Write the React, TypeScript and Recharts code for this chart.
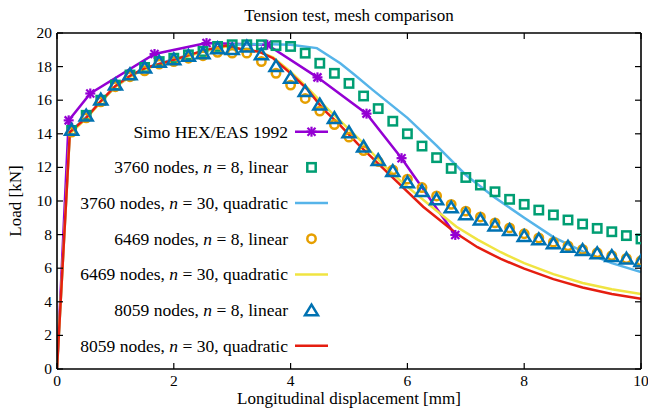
import { ComposedChart, Line, XAxis, YAxis } from 'recharts';

const FONT = '"Liberation Serif", "DejaVu Serif", serif';

const xTicks = [0, 2, 4, 6, 8, 10];
const yTicks = [0, 2, 4, 6, 8, 10, 12, 14, 16, 18, 20];

// Simo HEX/EAS 1992
const simoX = [0, 0.2, 0.57, 1.67, 2.56, 3.6, 4.46, 5.3, 5.9, 6.82];
const simoY = [0, 14.8, 16.4, 18.75, 19.4, 19.3, 17.36, 15.2, 12.55, 7.98];

// x positions of the linear-element markers
const linX = [
  0.25, 0.5, 0.75, 1, 1.25, 1.5, 1.75, 2, 2.25, 2.5,
  2.75, 3, 3.25, 3.5, 3.75, 4, 4.25, 4.5, 4.75, 5,
  5.25, 5.5, 5.75, 6, 6.25, 6.5, 6.75, 7, 7.25, 7.5,
  7.75, 8, 8.25, 8.5, 8.75, 9, 9.25, 9.5, 9.75, 10,
];
const lin3760 = [
  14.2, 15.1, 16.0, 16.9, 17.5, 17.95, 18.3, 18.5, 18.7, 18.9,
  19.2, 19.3, 19.3, 19.3, 19.25, 19.2, 18.8, 18.2, 17.6, 17.0,
  16.25, 15.5, 14.75, 14.0, 13.27, 12.58, 11.94, 11.4, 10.95, 10.55,
  10.1, 9.8, 9.46, 9.17, 8.87, 8.63, 8.37, 8.17, 7.94, 7.74,
];
const lin6469 = [
  14.1, 14.95, 15.9, 16.8, 17.4, 17.75, 18.15, 18.3, 18.5, 18.65,
  18.85, 18.8, 18.8, 18.3, 17.6, 16.9, 16.1, 15.35, 14.55, 13.8,
  13.0, 12.35, 11.85, 11.3, 10.8, 10.3, 9.8, 9.4, 9.05, 8.7,
  8.4, 8.05, 7.8, 7.55, 7.33, 7.12, 6.92, 6.75, 6.58, 6.44,
];
const lin8059 = [
  14.2, 15.05, 16.0, 16.9, 17.5, 17.9, 18.25, 18.4, 18.6, 18.75,
  19.05, 19.0, 19.15, 18.7, 18.0, 17.3, 16.5, 15.7, 14.9, 14.05,
  13.2, 12.4, 11.75, 11.07, 10.55, 10.06, 9.58, 9.17, 8.85, 8.5,
  8.23, 7.88, 7.68, 7.44, 7.24, 7.04, 6.85, 6.69, 6.53, 6.39,
];

// quadratic curves
const quad3760X = [0, 0.22, 0.5, 0.75, 1, 1.25, 1.5, 2, 2.5, 3, 3.5, 4, 4.45, 4.85, 5.1, 5.41, 6, 6.5, 7, 7.5, 8, 8.5, 9, 9.5, 10];
const quad3760Y = [0, 14.1, 15.0, 15.9, 16.8, 17.4, 17.9, 18.45, 18.9, 19.3, 19.35, 19.3, 19.1, 18.2, 17.5, 16.6, 14.95, 13.3, 11.55, 10.2, 9.0, 7.85, 7.0, 6.3, 5.77];
const quad6469X = [0, 0.22, 0.5, 0.75, 1, 1.25, 1.5, 2, 2.5, 2.9, 3.2, 3.45, 3.7, 4, 4.3, 4.6, 4.9, 5.2, 5.6, 5.93, 6.4, 6.84, 7.2, 7.6, 8, 8.5, 9, 9.5, 10];
const quad6469Y = [0, 14.0, 14.9, 15.9, 16.8, 17.4, 17.85, 18.35, 18.9, 19.2, 19.0, 18.9, 18.55, 17.7, 16.7, 15.6, 14.6, 13.6, 12.1, 11.05, 9.7, 8.47, 7.7, 6.95, 6.3, 5.65, 5.12, 4.75, 4.47];
const quad8059X = [0, 0.22, 0.5, 0.75, 1, 1.25, 1.5, 2, 2.5, 2.9, 3.2, 3.45, 3.7, 4, 4.3, 4.55, 4.85, 5.15, 5.7, 6.27, 6.84, 7.2, 7.6, 8, 8.5, 9, 9.5, 10];
const quad8059Y = [0, 14.1, 14.95, 15.95, 16.85, 17.45, 17.9, 18.4, 18.95, 19.25, 19.0, 18.9, 18.5, 17.6, 16.6, 15.5, 14.5, 13.4, 11.55, 9.66, 8.07, 7.25, 6.55, 5.97, 5.35, 4.85, 4.47, 4.18];

const legendLabels = [
  ['Simo HEX/EAS 1992'],
  ['3760 nodes, ', '8', 'linear'],
  ['3760 nodes, ', '30', 'quadratic'],
  ['6469 nodes, ', '8', 'linear'],
  ['6469 nodes, ', '30', 'quadratic'],
  ['8059 nodes, ', '8', 'linear'],
  ['8059 nodes, ', '30', 'quadratic'],
];

const C = {
  purple: '#9400D3',
  green: '#009E73',
  sky: '#56B4E9',
  orange: '#E69F00',
  yellow: '#F0E442',
  blue: '#0072B2',
  red: '#E51E10',
};

const zip = (xs: number[], ys: number[]) => xs.map((x, i) => ({ x, y: ys[i] }));

const Asterisk = ({ cx, cy }: any) => (
  <g stroke={C.purple} strokeWidth={2.2}>
    <line x1={cx - 5} y1={cy} x2={cx + 5} y2={cy} />
    <line x1={cx} y1={cy - 5} x2={cx} y2={cy + 5} />
    <line x1={cx - 4} y1={cy - 4} x2={cx + 4} y2={cy + 4} />
    <line x1={cx - 4} y1={cy + 4} x2={cx + 4} y2={cy - 4} />
  </g>
);
const Square = ({ cx, cy }: any) => (
  <rect x={cx - 4.2} y={cy - 4.2} width={8.4} height={8.4} fill="none" stroke={C.green} strokeWidth={2.5} />
);
const Circ = ({ cx, cy }: any) => (
  <circle cx={cx} cy={cy} r={4.2} fill="none" stroke={C.orange} strokeWidth={2.5} />
);
const Tri = ({ cx, cy }: any) => (
  <polygon
    points={`${cx},${cy - 6.5} ${cx - 6.5},${cy + 4.3} ${cx + 6.5},${cy + 4.3}`}
    fill="none"
    stroke={C.blue}
    strokeWidth={2.5}
  />
);

const dotOf = (Shape: any) => (p: any) =>
  p.payload.x === 0 ? <g key={p.index} /> : <Shape key={p.index} cx={p.cx} cy={p.cy} />;

const BottomTick = ({ x, y, payload }: any) => (
  <g>
    <line x1={x} y1={y} x2={x} y2={y - 6} stroke="#000" strokeWidth={1.2} />
    <text x={x} y={y + 17} textAnchor="middle" fontSize={15.5} fontFamily={FONT} fill="#000">
      {payload.value}
    </text>
  </g>
);
const TopTick = ({ x, y }: any) => (
  <line x1={x} y1={y} x2={x} y2={y + 6} stroke="#000" strokeWidth={1.2} />
);
const LeftTick = ({ x, y, payload }: any) => (
  <g>
    <line x1={x} y1={y} x2={x + 6} y2={y} stroke="#000" strokeWidth={1.2} />
    <text x={x - 5} y={y + 5} textAnchor="end" fontSize={15.5} fontFamily={FONT} fill="#000">
      {payload.value}
    </text>
  </g>
);
const RightTick = ({ x, y }: any) => (
  <line x1={x} y1={y} x2={x - 6} y2={y} stroke="#000" strokeWidth={1.2} />
);

const axisLine = { stroke: '#000', strokeWidth: 1.6 };

const legendShapes = ['asterisk', 'square', 'sky', 'circle', 'yellow', 'triangle', 'red'];

const LegendSample = ({ kind, y }: { kind: string; y: number }) => {
  const cx = 311.5;
  if (kind === 'asterisk')
    return (
      <g>
        <line x1={295} y1={y} x2={328} y2={y} stroke={C.purple} strokeWidth={2.5} />
        <Asterisk cx={cx} cy={y} />
      </g>
    );
  if (kind === 'square') return <Square cx={cx} cy={y} />;
  if (kind === 'circle') return <Circ cx={cx} cy={y} />;
  if (kind === 'triangle') return <Tri cx={cx} cy={y + 1} />;
  const col = kind === 'sky' ? C.sky : kind === 'yellow' ? C.yellow : C.red;
  return <line x1={295} y1={y} x2={328} y2={y} stroke={col} strokeWidth={2.5} />;
};

export default function App() {
  const rowY = (i: number) => 131.7 + i * 35.67;
  return (
    <div style={{ position: 'absolute', left: 0, top: 0, width: 648, height: 414, background: '#fff', fontFamily: FONT }}>
      <ComposedChart width={648} height={414} margin={{ top: 32, right: 6, bottom: 0, left: 0 }}>
        <XAxis
          dataKey="x"
          type="number"
          domain={[0, 10]}
          ticks={xTicks}
          interval={0}
          height={45}
          tickSize={0}
          tickMargin={0}
          tickLine={false}
          axisLine={axisLine}
          tick={<BottomTick />}
          allowDataOverflow
        />
        <XAxis
          xAxisId="top"
          orientation="top"
          dataKey="x"
          type="number"
          domain={[0, 10]}
          ticks={xTicks}
          interval={0}
          height={1}
          tickSize={0}
          tickMargin={0}
          tickLine={false}
          axisLine={axisLine}
          tick={<TopTick />}
          allowDataOverflow
        />
        <YAxis
          type="number"
          domain={[0, 20]}
          ticks={yTicks}
          interval={0}
          width={57}
          tickSize={0}
          tickMargin={0}
          tickLine={false}
          axisLine={axisLine}
          tick={<LeftTick />}
          allowDataOverflow
        />
        <YAxis
          yAxisId="right"
          orientation="right"
          type="number"
          domain={[0, 20]}
          ticks={yTicks}
          interval={0}
          width={1}
          tickSize={0}
          tickMargin={0}
          tickLine={false}
          axisLine={axisLine}
          tick={<RightTick />}
          allowDataOverflow
        />
        <Line data={zip(simoX, simoY)} dataKey="y" type="linear" stroke={C.purple} strokeWidth={2.5} dot={dotOf(Asterisk)} activeDot={false} isAnimationActive={false} />
        <Line data={zip(linX, lin3760)} dataKey="y" type="linear" stroke="none" dot={dotOf(Square)} activeDot={false} isAnimationActive={false} />
        <Line data={zip(quad3760X, quad3760Y)} dataKey="y" type="linear" stroke={C.sky} strokeWidth={2.5} dot={false} activeDot={false} isAnimationActive={false} />
        <Line data={zip(linX, lin6469)} dataKey="y" type="linear" stroke="none" dot={dotOf(Circ)} activeDot={false} isAnimationActive={false} />
        <Line data={zip(quad6469X, quad6469Y)} dataKey="y" type="linear" stroke={C.yellow} strokeWidth={2.5} dot={false} activeDot={false} isAnimationActive={false} />
        <Line data={zip(linX, lin8059)} dataKey="y" type="linear" stroke="none" dot={dotOf(Tri)} activeDot={false} isAnimationActive={false} />
        <Line data={zip(quad8059X, quad8059Y)} dataKey="y" type="linear" stroke={C.red} strokeWidth={2.5} dot={false} activeDot={false} isAnimationActive={false} />
      </ComposedChart>

      <div style={{ position: 'absolute', left: 149, width: 400, top: 6, textAlign: 'center', fontSize: 17, lineHeight: '20px' }}>
        Tension test, mesh comparison
      </div>
      <div style={{ position: 'absolute', left: 149, width: 400, top: 389, textAlign: 'center', fontSize: 17, lineHeight: '20px' }}>
        Longitudinal displacement [mm]
      </div>
      <div
        style={{
          position: 'absolute',
          left: 16 - 60,
          top: 201 - 10,
          width: 120,
          textAlign: 'center',
          fontSize: 17,
          lineHeight: '20px',
          transform: 'rotate(-90deg)',
        }}
      >
        Load [kN]
      </div>

      {legendLabels.map((lab, i) => (
        <div
          key={i}
          style={{
            position: 'absolute',
            right: 648 - 288,
            top: rowY(i) - 10,
            whiteSpace: 'nowrap',
            fontSize: 17.5,
            lineHeight: '20px',
          }}
        >
          {lab.length === 1 ? (
            lab[0]
          ) : (
            <>
              {lab[0]}
              <i>n</i> = {lab[1]}, {lab[2]}
            </>
          )}
        </div>
      ))}
      <svg style={{ position: 'absolute', left: 0, top: 0 }} width={648} height={414} pointerEvents="none">
        {legendShapes.map((k, i) => (
          <LegendSample key={k} kind={k} y={rowY(i)} />
        ))}
      </svg>
    </div>
  );
}
